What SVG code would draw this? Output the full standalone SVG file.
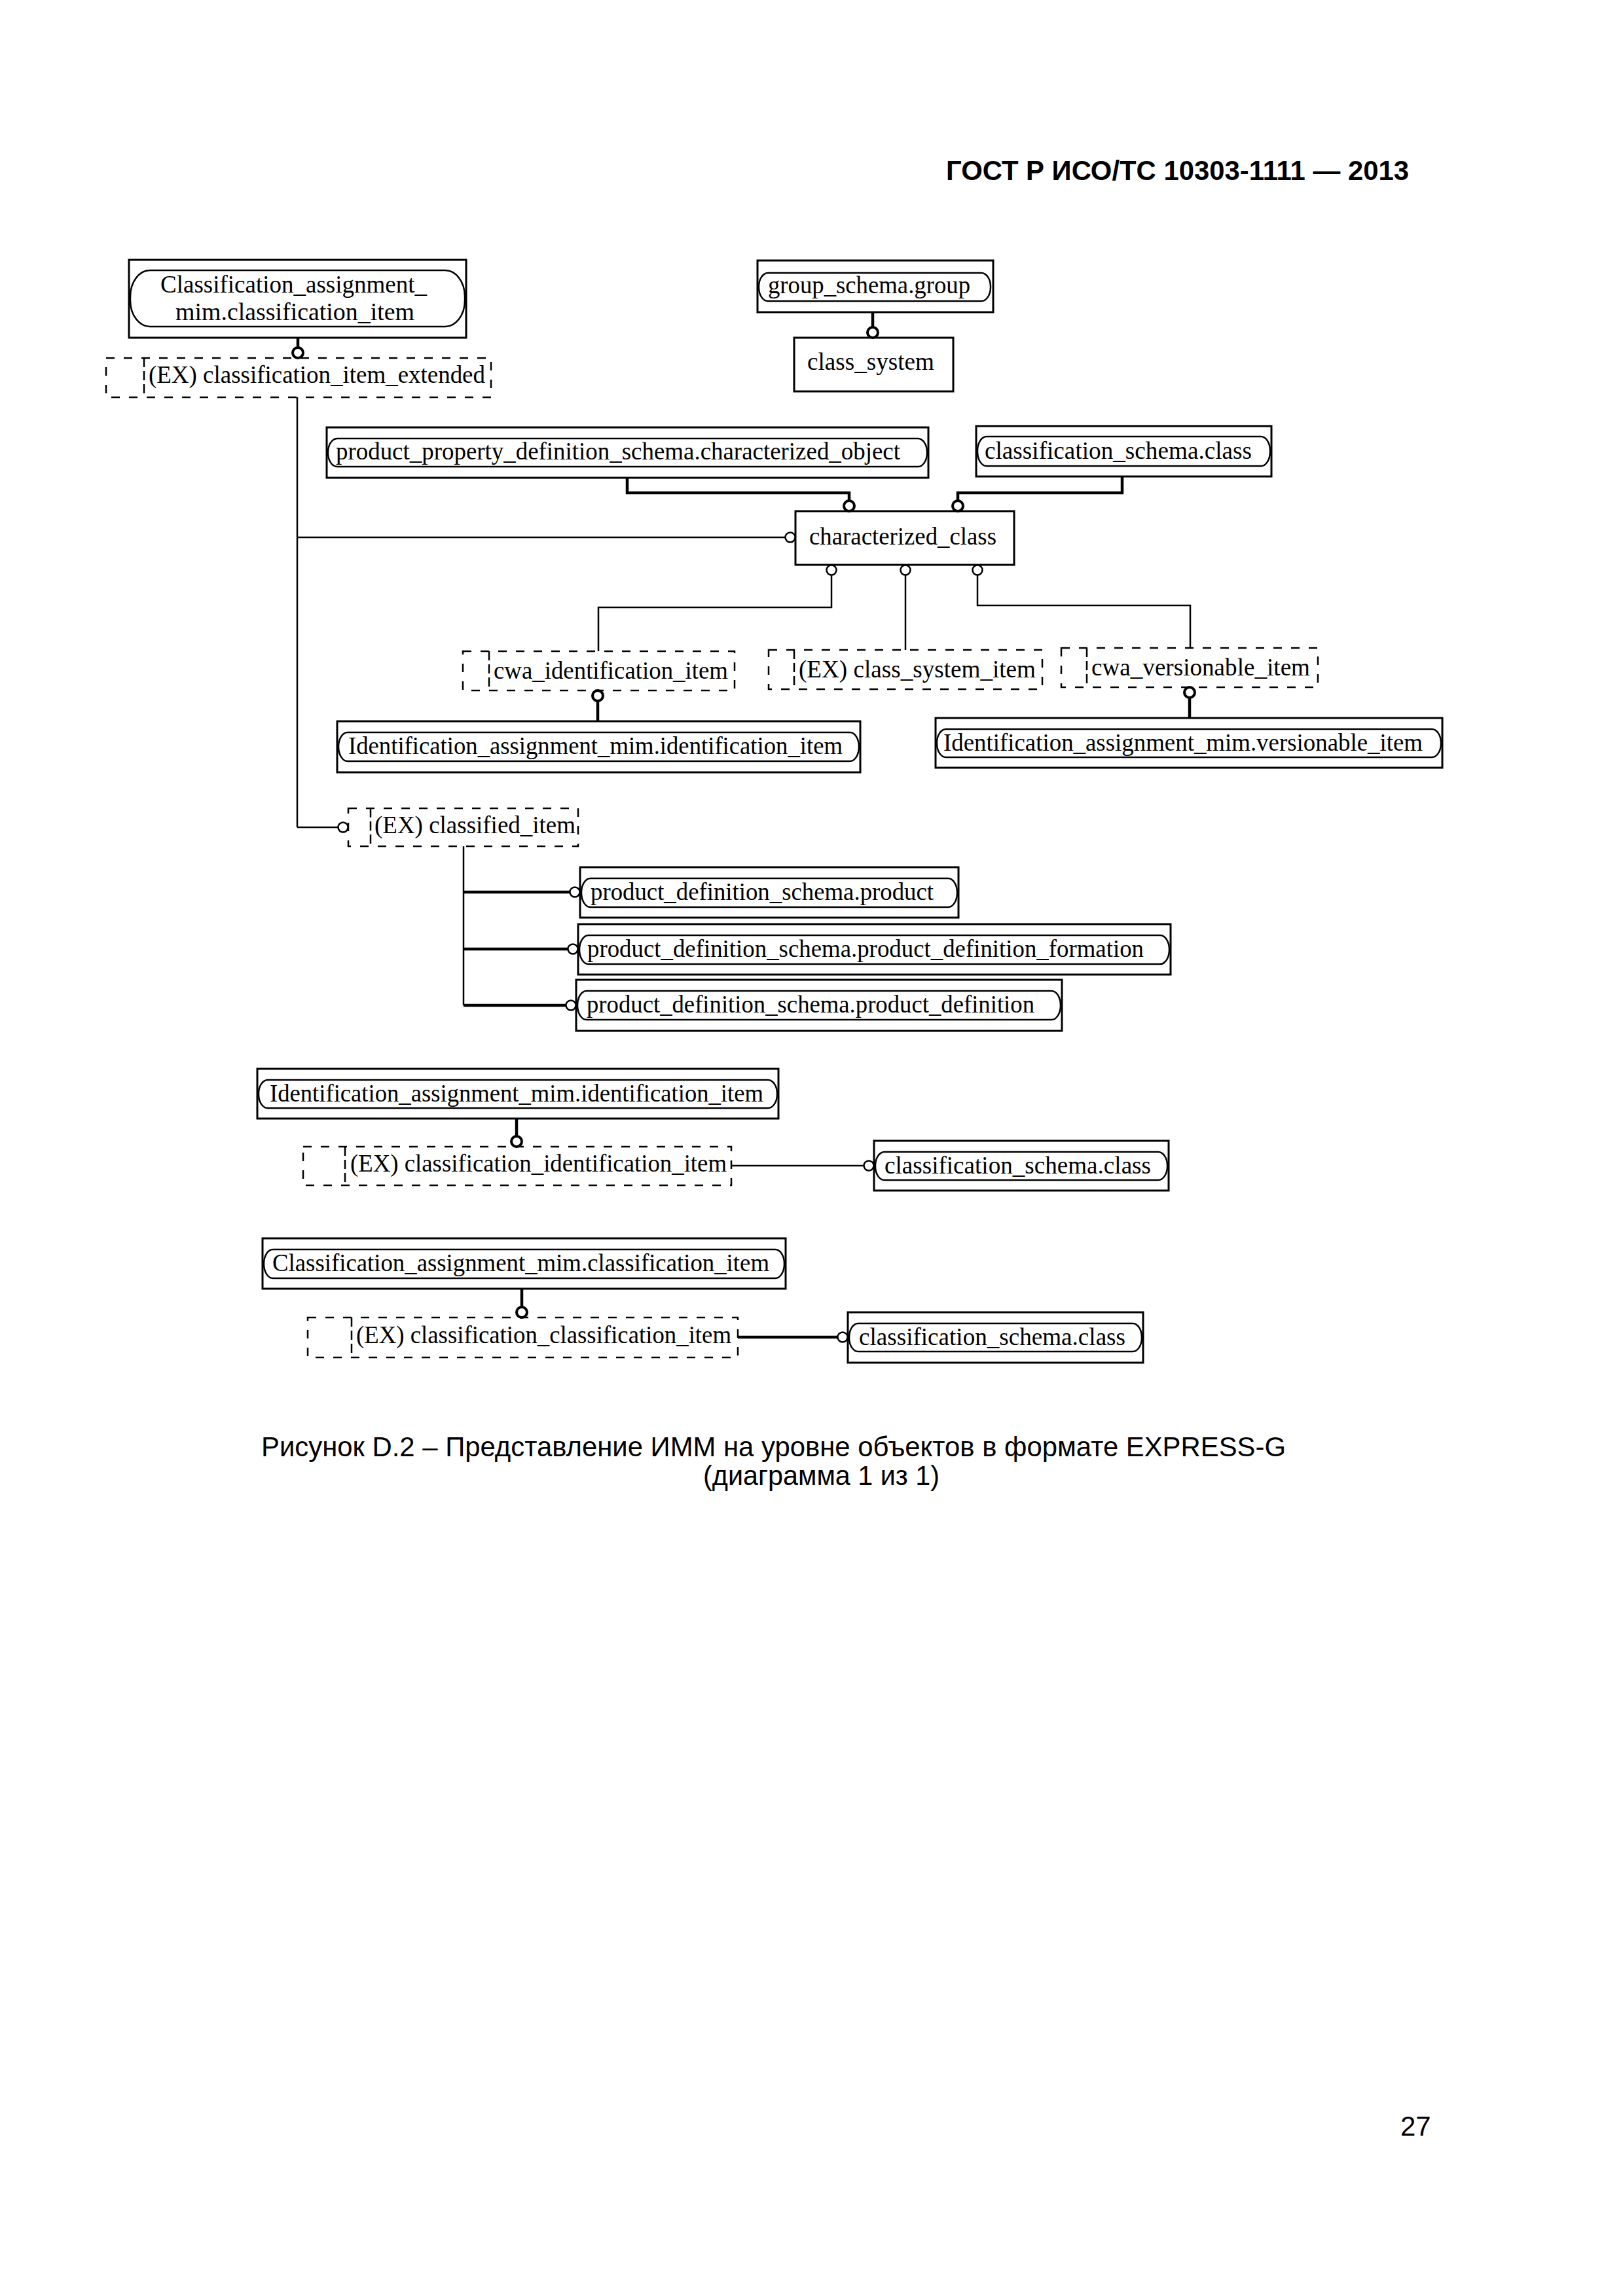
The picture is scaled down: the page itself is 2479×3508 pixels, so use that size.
<svg xmlns="http://www.w3.org/2000/svg" width="2479" height="3508" viewBox="0 0 2479 3508">
<style>
.bg{fill:#fff}
.box{fill:#fff;stroke:#000;stroke-width:3}
.pill{fill:none;stroke:#000;stroke-width:2.5}
.sel{fill:#fff;stroke:#000;stroke-width:2.5;stroke-dasharray:13 14}
.selin{stroke:#000;stroke-width:2.5;stroke-dasharray:14 6}
.t{font-family:"Liberation Serif","Times New Roman",serif;font-size:37px;fill:#000}
.s{font-family:"Liberation Sans",Arial,sans-serif;fill:#000}
.thin{fill:none;stroke:#000;stroke-width:2.5}
.thick{fill:none;stroke:#000;stroke-width:4.5}
.c{fill:#fff;stroke:#000;stroke-width:2.5}
.ck{fill:#fff;stroke:#000;stroke-width:4}
</style>
<rect class="bg" x="0" y="0" width="2479" height="3508"/>
<text class="s" x="1445" y="275" font-size="42" font-weight="bold" textLength="707" lengthAdjust="spacingAndGlyphs">ГОСТ Р ИСО/ТС 10303-1111 — 2013</text>

<g id="n_classification_item">
<rect class="box" x="197" y="397" width="515" height="119"/>
<rect class="pill" x="199" y="413" width="511" height="86" rx="30" ry="40"/>
<text class="t" x="245" y="447" textLength="407" lengthAdjust="spacingAndGlyphs">Classification_assignment_</text>
<text class="t" x="268" y="489" textLength="365" lengthAdjust="spacingAndGlyphs">mim.classification_item</text>
</g>
<g id="n_classification_item_extended">
<rect class="sel" x="162" y="547" width="588" height="60"/>
<line class="selin" x1="220" y1="547" x2="220" y2="607"/>
<text class="t" x="227" y="585" textLength="514" lengthAdjust="spacingAndGlyphs">(EX) classification_item_extended</text>
</g>
<g id="n_group">
<rect class="box" x="1157" y="398" width="360" height="79"/>
<rect class="pill" x="1159" y="417" width="354" height="43" rx="14" ry="21"/>
<text class="t" x="1173" y="448" textLength="309" lengthAdjust="spacingAndGlyphs">group_schema.group</text>
</g>
<g id="n_class_system">
<rect class="box" x="1213" y="516" width="243" height="82"/>
<text class="t" x="1233" y="565" textLength="194" lengthAdjust="spacingAndGlyphs">class_system</text>
</g>
<g id="n_characterized_object">
<rect class="box" x="499" y="653" width="919" height="77"/>
<rect class="pill" x="501" y="670" width="915" height="43" rx="14" ry="21"/>
<text class="t" x="513" y="702" textLength="862" lengthAdjust="spacingAndGlyphs">product_property_definition_schema.characterized_object</text>
</g>
<g id="n_class_top">
<rect class="box" x="1491" y="651" width="451" height="77"/>
<rect class="pill" x="1493" y="667" width="447" height="45" rx="14" ry="22"/>
<text class="t" x="1504" y="701" textLength="408" lengthAdjust="spacingAndGlyphs">classification_schema.class</text>
</g>
<g id="n_characterized_class">
<rect class="box" x="1215" y="781" width="334" height="82"/>
<text class="t" x="1236" y="832" textLength="286" lengthAdjust="spacingAndGlyphs">characterized_class</text>
</g>
<g id="n_cwa_identification_item">
<rect class="sel" x="707" y="995" width="415" height="60"/>
<line class="selin" x1="747" y1="995" x2="747" y2="1055"/>
<text class="t" x="754" y="1037" textLength="358" lengthAdjust="spacingAndGlyphs">cwa_identification_item</text>
</g>
<g id="n_class_system_item">
<rect class="sel" x="1174" y="993" width="418" height="60"/>
<line class="selin" x1="1213" y1="993" x2="1213" y2="1053"/>
<text class="t" x="1220" y="1035" textLength="362" lengthAdjust="spacingAndGlyphs">(EX) class_system_item</text>
</g>
<g id="n_cwa_versionable_item">
<rect class="sel" x="1621" y="990" width="392" height="60"/>
<line class="selin" x1="1660" y1="990" x2="1660" y2="1050"/>
<text class="t" x="1667" y="1032" textLength="334" lengthAdjust="spacingAndGlyphs">cwa_versionable_item</text>
</g>
<g id="n_identification_item_1">
<rect class="box" x="515" y="1102" width="799" height="78"/>
<rect class="pill" x="517" y="1119" width="795" height="44" rx="14" ry="22"/>
<text class="t" x="532" y="1152" textLength="755" lengthAdjust="spacingAndGlyphs">Identification_assignment_mim.identification_item</text>
</g>
<g id="n_versionable_item">
<rect class="box" x="1429" y="1097" width="774" height="76"/>
<rect class="pill" x="1431" y="1114" width="770" height="43" rx="14" ry="21"/>
<text class="t" x="1441" y="1147" textLength="732" lengthAdjust="spacingAndGlyphs">Identification_assignment_mim.versionable_item</text>
</g>
<g id="n_classified_item">
<rect class="sel" x="532" y="1235" width="351" height="58"/>
<line class="selin" x1="566" y1="1235" x2="566" y2="1293"/>
<text class="t" x="572" y="1273" textLength="307" lengthAdjust="spacingAndGlyphs">(EX) classified_item</text>
</g>
<g id="n_product">
<rect class="box" x="886" y="1325" width="578" height="77"/>
<rect class="pill" x="888" y="1342" width="574" height="44" rx="14" ry="22"/>
<text class="t" x="902" y="1375" textLength="524" lengthAdjust="spacingAndGlyphs">product_definition_schema.product</text>
</g>
<g id="n_product_definition_formation">
<rect class="box" x="883" y="1412" width="905" height="77"/>
<rect class="pill" x="885" y="1429" width="901" height="44" rx="14" ry="22"/>
<text class="t" x="897" y="1462" textLength="850" lengthAdjust="spacingAndGlyphs">product_definition_schema.product_definition_formation</text>
</g>
<g id="n_product_definition">
<rect class="box" x="880" y="1497" width="742" height="78"/>
<rect class="pill" x="882" y="1514" width="738" height="44" rx="14" ry="22"/>
<text class="t" x="896" y="1547" textLength="684" lengthAdjust="spacingAndGlyphs">product_definition_schema.product_definition</text>
</g>
<g id="n_identification_item_2">
<rect class="box" x="393" y="1633" width="796" height="76"/>
<rect class="pill" x="395" y="1650" width="792" height="43" rx="14" ry="21"/>
<text class="t" x="412" y="1683" textLength="754" lengthAdjust="spacingAndGlyphs">Identification_assignment_mim.identification_item</text>
</g>
<g id="n_classification_identification_item">
<rect class="sel" x="463" y="1752" width="654" height="59"/>
<line class="selin" x1="527" y1="1752" x2="527" y2="1811"/>
<text class="t" x="535" y="1790" textLength="575" lengthAdjust="spacingAndGlyphs">(EX) classification_identification_item</text>
</g>
<g id="n_class_mid">
<rect class="box" x="1335" y="1743" width="450" height="76"/>
<rect class="pill" x="1337" y="1760" width="446" height="43" rx="14" ry="21"/>
<text class="t" x="1351" y="1793" textLength="407" lengthAdjust="spacingAndGlyphs">classification_schema.class</text>
</g>
<g id="n_classification_item_2">
<rect class="box" x="401" y="1892" width="799" height="77"/>
<rect class="pill" x="403" y="1909" width="795" height="44" rx="14" ry="22"/>
<text class="t" x="416" y="1942" textLength="759" lengthAdjust="spacingAndGlyphs">Classification_assignment_mim.classification_item</text>
</g>
<g id="n_classification_classification_item">
<rect class="sel" x="470" y="2013" width="657" height="61"/>
<line class="selin" x1="537" y1="2013" x2="537" y2="2074"/>
<text class="t" x="544" y="2052" textLength="573" lengthAdjust="spacingAndGlyphs">(EX) classification_classification_item</text>
</g>
<g id="n_class_bottom">
<rect class="box" x="1295" y="2005" width="451" height="77"/>
<rect class="pill" x="1297" y="2022" width="447" height="43" rx="14" ry="21"/>
<text class="t" x="1312" y="2055" textLength="407" lengthAdjust="spacingAndGlyphs">classification_schema.class</text>
</g>

<g id="connectors">
<line class="thick" x1="455" y1="516" x2="455" y2="532"/>
<circle class="ck" cx="455" cy="539" r="8"/>
<line class="thick" x1="1333" y1="477" x2="1333" y2="501"/>
<circle class="ck" cx="1333" cy="508" r="8"/>
<polyline class="thick" points="958,730 958,753 1297,753 1297,765"/>
<circle class="ck" cx="1297" cy="773" r="8"/>
<polyline class="thick" points="1714,728 1714,753 1463,753 1463,765"/>
<circle class="ck" cx="1463" cy="773" r="8"/>
<line class="thin" x1="454" y1="607" x2="454" y2="1264"/>
<line class="thin" x1="454" y1="821" x2="1200" y2="821"/>
<circle class="c" cx="1207" cy="821" r="7.5"/>
<line class="thin" x1="454" y1="1264" x2="517" y2="1264"/>
<circle class="c" cx="524" cy="1264" r="7.5"/>
<circle class="c" cx="1270" cy="871" r="7.5"/>
<circle class="c" cx="1383" cy="871" r="7.5"/>
<circle class="c" cx="1493" cy="871" r="7.5"/>
<polyline class="thin" points="1270,878 1270,928 914,928 914,995"/>
<line class="thin" x1="1383" y1="878" x2="1383" y2="993"/>
<polyline class="thin" points="1493,878 1493,925 1818,925 1818,990"/>
<circle class="ck" cx="913" cy="1063" r="8"/>
<line class="thick" x1="913" y1="1071" x2="913" y2="1102"/>
<circle class="ck" cx="1817" cy="1058" r="8"/>
<line class="thick" x1="1817" y1="1066" x2="1817" y2="1097"/>
<line class="thin" x1="708" y1="1293" x2="708" y2="1536"/>
<line class="thick" x1="708" y1="1363" x2="871" y2="1363"/>
<circle class="c" cx="878" cy="1363" r="7.5"/>
<line class="thick" x1="708" y1="1450" x2="868" y2="1450"/>
<circle class="c" cx="875" cy="1450" r="7.5"/>
<line class="thick" x1="708" y1="1536" x2="865" y2="1536"/>
<circle class="c" cx="872" cy="1536" r="7.5"/>
<line class="thick" x1="789" y1="1709" x2="789" y2="1737"/>
<circle class="ck" cx="789" cy="1744" r="8"/>
<line class="thin" x1="1117" y1="1781" x2="1320" y2="1781"/>
<circle class="c" cx="1327" cy="1781" r="7.5"/>
<line class="thick" x1="797" y1="1969" x2="797" y2="1998"/>
<circle class="ck" cx="797" cy="2005" r="8"/>
<line class="thick" x1="1127" y1="2043" x2="1280" y2="2043"/>
<circle class="c" cx="1287" cy="2043" r="7.5"/>
</g>

<text class="s" x="399" y="2225" font-size="42" textLength="1565" lengthAdjust="spacingAndGlyphs">Рисунок D.2 – Представление ИММ на уровне объектов в формате EXPRESS-G</text>
<text class="s" x="1074" y="2269" font-size="42" textLength="361" lengthAdjust="spacingAndGlyphs">(диаграмма 1 из 1)</text>
<text class="s" x="2139" y="3263" font-size="42">27</text>
</svg>
